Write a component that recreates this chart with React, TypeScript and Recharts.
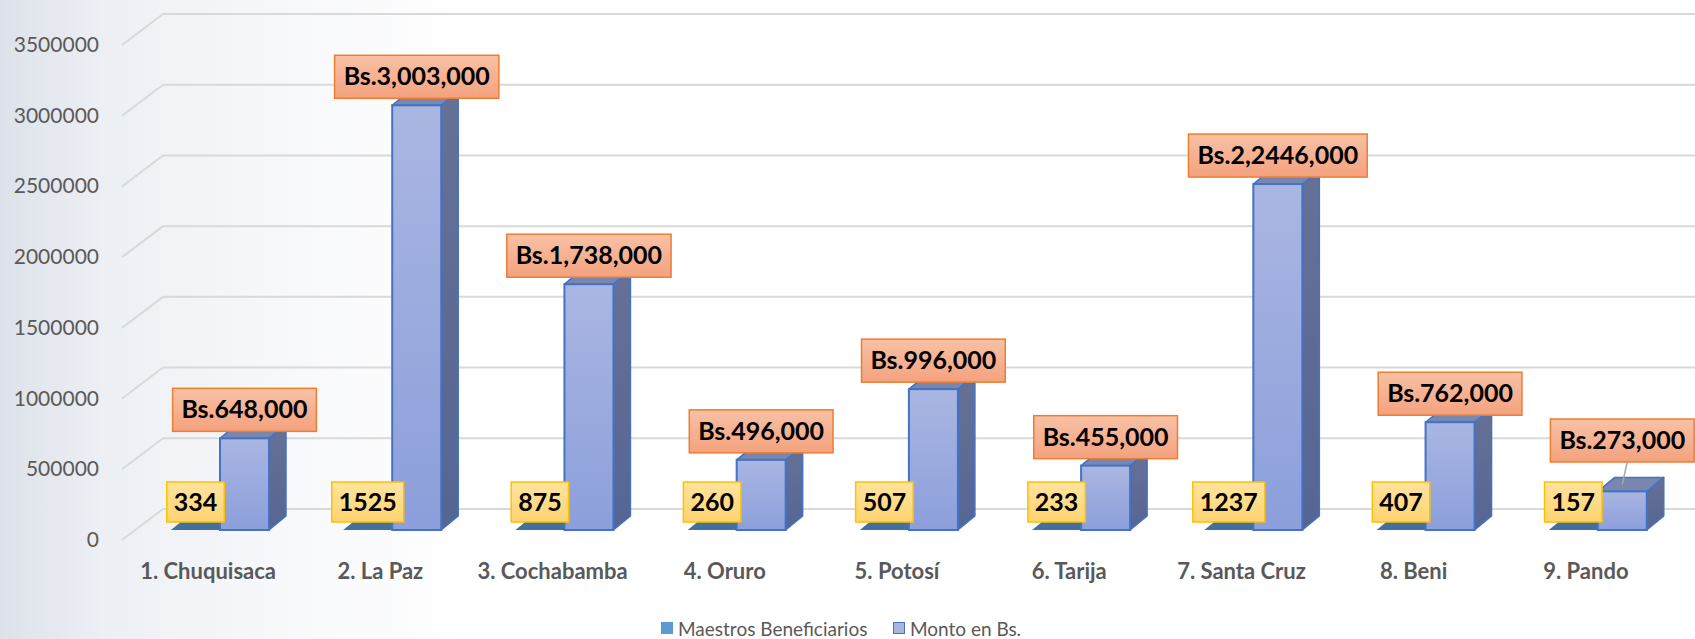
import React from 'react'
import { BarChart, Bar, XAxis, YAxis, CartesianGrid, Legend, LabelList } from 'recharts'

const categories = [
  '1. Chuquisaca',
  '2. La Paz',
  '3. Cochabamba',
  '4. Oruro',
  '5. Potosí',
  '6. Tarija',
  '7. Santa Cruz',
  '8. Beni',
  '9. Pando'
]
const maestros = [334, 1525, 875, 260, 507, 233, 1237, 407, 157]
const monto = [648000, 3003000, 1738000, 496000, 996000, 455000, 2446000, 762000, 273000]
const montoLabels = [
  'Bs.648,000',
  'Bs.3,003,000',
  'Bs.1,738,000',
  'Bs.496,000',
  'Bs.996,000',
  'Bs.455,000',
  'Bs.2,2446,000',
  'Bs.762,000',
  'Bs.273,000'
]
const yTicks = [0, 500000, 1000000, 1500000, 2000000, 2500000, 3000000, 3500000]

const data = categories.map((name, i) => ({
  name,
  maestros: maestros[i],
  monto: monto[i],
  montoLabel: montoLabels[i]
}))

const W = 1695
const H = 639
const TOP = 35
const BOTTOM = 109
const DX = 17
const DY = 14
const BACK = 21
const FONT = 'Lato, "Open Sans", sans-serif'
const GRAY = '#595959'

// rough Lato Bold advance widths (em)
const charW: Record<string, number> = { '.': 0.24, ',': 0.24, B: 0.65, s: 0.42 }
const textWidth = (s: string, size: number) =>
  [...s].reduce((a, c) => a + (charW[c] ?? 0.58), 0) * size

const box = (p: any) => p.viewBox ?? p

const MontoShape = (props: any) => {
  const { x, y, width, height } = props
  const r = x + width
  return (
    <g>
      <polygon
        points={`${r},${y} ${r + DX},${y - DY} ${r + DX},${y + height - DY} ${r},${y + height}`}
        fill="url(#montoSide)"
        stroke="#4472c4"
        strokeWidth={1.5}
        strokeLinejoin="round"
      />
      <polygon
        points={`${x},${y} ${x + DX},${y - DY} ${r + DX},${y - DY} ${r},${y}`}
        fill="#7986b0"
        stroke="#4472c4"
        strokeWidth={1.5}
        strokeLinejoin="round"
      />
      <rect x={x} y={y} width={width} height={height} fill="url(#montoFront)" stroke="#4472c4" strokeWidth={2} />
    </g>
  )
}

const FlatShape = (props: any) => {
  const { x, y, width, height } = props
  const b = y + height
  return (
    <polygon
      points={`${x},${b} ${x + width},${b} ${x + width + DX},${b - DY} ${x + DX},${b - DY}`}
      fill="#41719c"
    />
  )
}

const MontoLabel = (props: any) => {
  const { x, y, width, height } = box(props)
  const text = String(props.value)
  const w = textWidth(text, 25) + 18
  const cx = x + width / 2
  const base = y + height
  const natural = y - 7
  const bottom = Math.min(natural, base - 68)
  const top = bottom - 43
  return (
    <g>
      {bottom < natural && (
        <line x1={cx + 5} y1={bottom} x2={cx} y2={y - DY / 2} stroke="#a6a6a6" strokeWidth={1.5} />
      )}
      <rect x={cx - w / 2} y={top} width={w} height={43} fill="url(#orangeBox)" stroke="#ed7d31" strokeWidth={1.5} />
      <text x={cx} y={top + 30} textAnchor="middle" fontFamily={FONT} fontWeight={700} fontSize={25} fill="#000">
        {text}
      </text>
    </g>
  )
}

const MaestrosLabel = (props: any) => {
  const { x, y, width, height } = box(props)
  const text = String(props.value)
  const w = textWidth(text, 25) + 14
  const cx = x - width / 2
  const mid = y + height - 28
  return (
    <g>
      <rect x={cx - w / 2} y={mid - 20} width={w} height={40} fill="url(#yellowBox)" stroke="#ffc000" strokeWidth={1.5} />
      <text x={cx} y={mid + 9} textAnchor="middle" fontFamily={FONT} fontWeight={700} fontSize={25} fill="#000">
        {text}
      </text>
    </g>
  )
}

const YTick = (props: any) => {
  const { y, payload } = props
  return (
    <g>
      <line x1={122} y1={y + 10} x2={163} y2={y - BACK} stroke="#d9d9d9" strokeWidth={2} />
      <text x={99} y={y + 17} textAnchor="end" fontFamily={FONT} fontSize={21} fill={GRAY}>
        {payload.value}
      </text>
    </g>
  )
}

const CatTick = (props: any) => {
  const { x, y, payload } = props
  return (
    <text x={x - 12} y={y + 49} textAnchor="middle" fontFamily={FONT} fontWeight={700} fontSize={22} fill={GRAY}>
      {payload.value}
    </text>
  )
}

const legendItem = { position: 'absolute' as const, top: 4, display: 'flex', alignItems: 'center', height: 30 }

const LegendContent = () => (
  <div style={{ position: 'relative', height: 30, fontFamily: FONT, fontSize: 19, color: GRAY }}>
    <div style={{ ...legendItem, left: 661 }}>
      <span style={{ width: 12, height: 12, background: '#5b9bd5', marginRight: 5 }} />
      <span>Maestros Beneficiarios</span>
    </div>
    <div style={{ ...legendItem, left: 893 }}>
      <span style={{ width: 10, height: 10, background: '#a9b4e0', border: '1px solid #4472c4', marginRight: 5 }} />
      <span>Monto en Bs.</span>
    </div>
  </div>
)

export default function App() {
  const plotH = H - TOP - BOTTOM
  const yMax = yTicks[yTicks.length - 1]
  const backLines = yTicks.map((t) => TOP + plotH * (1 - t / yMax) - BACK)
  return (
    <div
      style={{
        position: 'absolute',
        left: 0,
        top: 0,
        width: W,
        height: H,
        background: 'linear-gradient(to right, #dde2ea 0%, #eceff4 6%, #f6f7fa 15%, #ffffff 28%)'
      }}
    >
      <BarChart
        width={W}
        height={H}
        data={data}
        margin={{ top: TOP, right: 11, left: 0, bottom: 0 }}
        barGap={0}
        barSize={49}
      >
        <defs>
          <linearGradient id="montoFront" x1="0" y1="0" x2="0" y2="1">
            <stop offset="0%" stopColor="#aab6e2" />
            <stop offset="100%" stopColor="#8c9fdb" />
          </linearGradient>
          <linearGradient id="montoSide" x1="0" y1="0" x2="0" y2="1">
            <stop offset="0%" stopColor="#667196" />
            <stop offset="100%" stopColor="#556593" />
          </linearGradient>
          <linearGradient id="orangeBox" x1="0" y1="0" x2="0" y2="1">
            <stop offset="0%" stopColor="#f8c1a5" />
            <stop offset="100%" stopColor="#f4a27e" />
          </linearGradient>
          <linearGradient id="yellowBox" x1="0" y1="0" x2="0" y2="1">
            <stop offset="0%" stopColor="#ffe3a0" />
            <stop offset="100%" stopColor="#ffd470" />
          </linearGradient>
        </defs>
        <CartesianGrid
          vertical={false}
          horizontalPoints={backLines}
          x={163}
          width={W - 163}
          stroke="#d9d9d9"
          strokeWidth={2}
        />
        <XAxis
          dataKey="name"
          axisLine={false}
          tickLine={false}
          tickSize={0}
          tickMargin={0}
          height={BOTTOM - 30}
          interval={0}
          tick={<CatTick />}
        />
        <YAxis
          width={134}
          domain={[0, yMax]}
          ticks={yTicks}
          axisLine={false}
          tickLine={false}
          tick={<YTick />}
        />
        <Legend verticalAlign="bottom" height={30} wrapperStyle={{ bottom: 0 }} content={<LegendContent />} />
        <Bar dataKey="maestros" name="Maestros Beneficiarios" fill="#5b9bd5" shape={<FlatShape />} isAnimationActive={false} />
        <Bar dataKey="monto" name="Monto en Bs." fill="#a9b4e0" shape={<MontoShape />} isAnimationActive={false}>
          <LabelList dataKey="maestros" content={<MaestrosLabel />} />
          <LabelList dataKey="montoLabel" content={<MontoLabel />} />
        </Bar>
      </BarChart>
    </div>
  )
}
